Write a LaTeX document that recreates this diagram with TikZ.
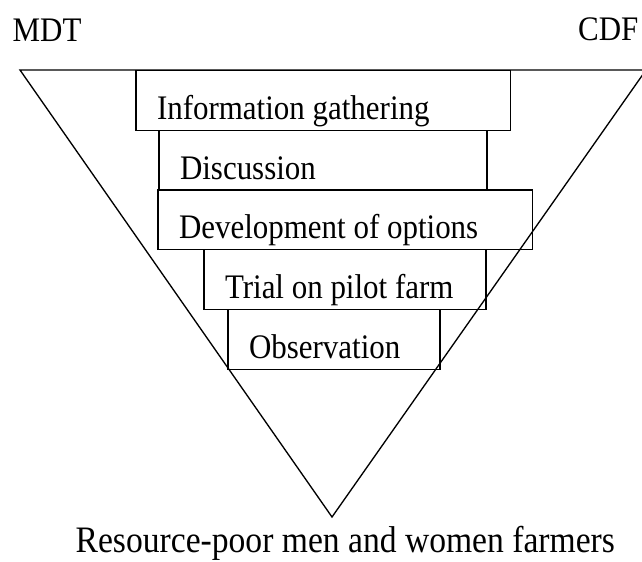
\documentclass[tikz,border=0pt]{standalone}
\usepackage{fontspec}
\setmainfont[FakeStretch=0.9]{Liberation Serif}
\usepackage{tikz}
\usetikzlibrary{positioning}

\begin{document}
\begin{tikzpicture}[x=0.75pt, y=-0.75pt, line width=1pt,
        stage/.style={draw, anchor=north west, inner ysep=0pt, inner xsep=15.75pt, outer sep=0pt,
            minimum height=44.8pt, text height=28.5pt, text depth=0pt, align=flush left,
            font=\fontsize{25.8pt}{30pt}\selectfont},
        side/.style={inner sep=0pt, font=\fontsize{25.8pt}{30pt}\selectfont}]
        \useasboundingbox (0,0) rectangle (642,561);

        % the funnel
        \coordinate (topleft) at (20,70);
        \coordinate (topright) at (646,70);
        \coordinate (tip) at (332,517);
        \draw (topleft) -- (topright) -- (tip) -- cycle;

        % stacked steps
        \node[stage, text width=249.5pt] (info) at (136,70.5) {Information gathering};
        \node[stage, text width=214.5pt] (disc) [below right=0pt and 17.25pt of info.south west] {Discussion};
        \node[stage, text width=249.5pt] (devel) [below right=0pt and -0.75pt of disc.south west] {Development of options};
        \node[stage, text width=180pt] (trial) [below right=0pt and 34.5pt of devel.south west] {Trial on pilot farm};
        \node[stage, text width=127.5pt] (obs) [below right=0pt and 18pt of trial.south west] {Observation};

        \node[side, anchor=base west] (mdt) at (12,41) {MDT};
        \node[side, anchor=base east] (cdf) at (639,40) {CDF};
        \node[side, anchor=base west, font=\fontsize{28pt}{32pt}\selectfont] (farmers) at (75,552) {Resource-poor men and women farmers};
    \end{tikzpicture}
\end{document}
